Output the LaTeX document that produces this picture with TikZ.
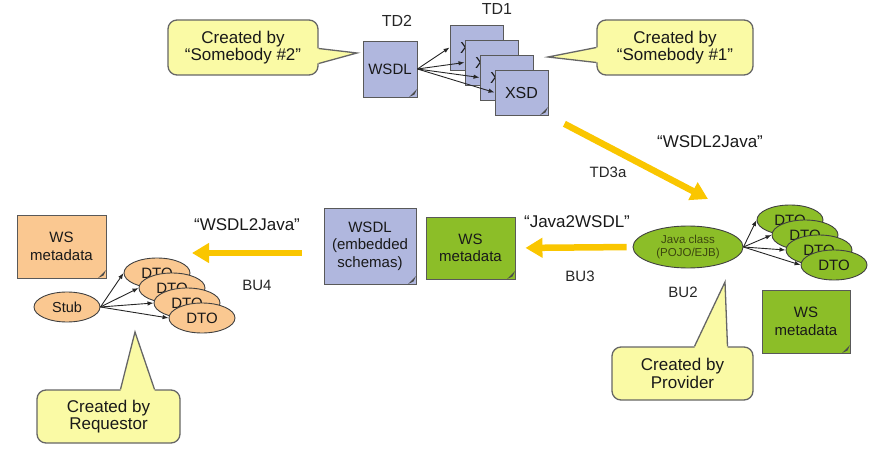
\documentclass[tikz,border=0pt]{standalone}
\usepackage{fontspec}
\setmainfont{Liberation Sans}
\usetikzlibrary{shapes.geometric,arrows.meta}
\definecolor{noteyellow}{RGB}{250,250,165}
\definecolor{docblue}{RGB}{176,183,222}
\definecolor{wsgreen}{RGB}{140,190,40}
\definecolor{reqorange}{RGB}{250,200,145}
\definecolor{flowyellow}{RGB}{250,198,0}
\definecolor{javatext}{RGB}{60,70,15}
\newcommand\setfs[2]{\fontsize{#1}{#2}\selectfont}

\begin{document}
\begin{tikzpicture}
            [x=1pt,y=-1pt,
             note/.style={draw=black!60,line width=1.3pt,fill=noteyellow,rounded corners=9pt,align=center,font=\setfs{17}{17.5},text=black!90},
             noteline/.style={draw=black!60,line width=1.3pt,line join=miter},
             doc/.style={draw=black!65,line width=0.9pt,fill=docblue,align=center,inner sep=1pt,font=\setfs{15}{17.5},text=black!90,
               path picture={\fill[black!70] ([xshift=-8pt]path picture bounding box.south east) -- ([yshift=8pt]path picture bounding box.south east) -- ([shift={(-2.5pt,2.5pt)}]path picture bounding box.south east) -- cycle;}},
             xsd/.style={doc,minimum width=53,minimum height=45,font=\setfs{16}{17}},
             ell/.style={ellipse,draw=black!75,line width=0.9pt,inner sep=0pt,align=center,minimum width=66,minimum height=30,font=\setfs{15}{16},text=black!90},
             lbl/.style={font=\setfs{15}{16},text=black!85},
             quote/.style={font=\setfs{17}{18},text=black!90},
             link/.style={draw=black!85,line width=0.9pt,-{Latex[length=6pt,width=4.5pt]}},
             flow/.style={draw=flowyellow,line width=6.5pt,-{Triangle[length=17pt,width=19pt]}}]
            \useasboundingbox (0,0) rectangle (883,457);
            %
            % top: WSDL and XSDs
            \node[doc,minimum width=54,minimum height=56] (wsdl) at (390,69) {WSDL};
            \node[lbl,font=\setfs{16}{17}] (td2) at (397,21) {TD2};
            \node[xsd] (x1) at (476.5,47.5) {XSD};
            \node[xsd] (x2) at (491.5,62.5) {XSD};
            \node[xsd] (x3) at (506.5,77.5) {XSD};
            \node[xsd] (x4) at (521.5,92.5) {XSD};
            \node[lbl,font=\setfs{16}{17}] (td1) at (497,9) {TD1};
            \draw[link] (wsdl.east) -- (x1.west);
            \draw[link] (wsdl.east) -- (x2.west);
            \draw[link] (wsdl.east) -- (x3.west);
            \draw[link] (wsdl.east) -- (x4.west);
            %
            % callouts at the top
            \node[note,minimum width=150,minimum height=55] (c2) at (243,47.5) {Created by\\“Somebody \#2”};
            \coordinate (t2) at (357,53);
            \fill[noteyellow] ([shift={(-3pt,-1pt)}]c2.east) -- ([yshift=-1pt]c2.east) -- (t2) -- ([yshift=-16pt]c2.east) -- ([shift={(-3pt,-16pt)}]c2.east) -- cycle;
            \draw[noteline] ([yshift=-1pt]c2.east) -- (t2) -- ([yshift=-16pt]c2.east);
            \node[note,minimum width=156,minimum height=55] (c1) at (675,47.5) {Created by\\“Somebody \#1”};
            \coordinate (t1) at (548,57);
            \fill[noteyellow] ([shift={(3pt,0pt)}]c1.west) -- (c1.west) -- (t1) -- ([yshift=-15pt]c1.west) -- ([shift={(3pt,-15pt)}]c1.west) -- cycle;
            \draw[noteline] (c1.west) -- (t1) -- ([yshift=-15pt]c1.west);
            %
            % provider side
            \coordinate (td3tip) at (708,199);
            \draw[flow,shorten <=18pt] (x4.south east) -- (td3tip);
            \node[quote] (q1) at (710,142) {“WSDL2Java”};
            \node[lbl] (td3) at (608,172) {TD3a};
            \node[ell,fill=wsgreen,minimum width=110,minimum height=42,font=\setfs{11.5}{12.5},text=javatext] (java) at (688,247) {Java class\\(POJO/EJB)};
            \node[ell,fill=wsgreen] (d1) at (790,220) {DTO};
            \node[ell,fill=wsgreen] (d2) at (805,235) {DTO};
            \node[ell,fill=wsgreen] (d3) at (819,250) {DTO};
            \node[ell,fill=wsgreen] (d4) at (834,265) {DTO};
            \draw[link] (java.east) -- (d1.west);
            \draw[link] (java.east) -- (d2.west);
            \draw[link] (java.east) -- (d3.west);
            \draw[link] (java.east) -- (d4.west);
            \node[lbl] (bu2) at (683,292) {BU2};
            \node[doc,fill=wsgreen,minimum width=88,minimum height=63] (wsr) at (806,321.5) {WS\\metadata};
            \node[note,minimum width=141,minimum height=53] (c3) at (682.5,373.5) {Created by\\Provider};
            \coordinate (t3) at (725,282);
            \fill[noteyellow] ([shift={(12pt,-3pt)}]c3.north) -- ([xshift=12pt]c3.north) -- (t3) -- ([xshift=45pt]c3.north) -- ([shift={(45pt,-3pt)}]c3.north) -- cycle;
            \draw[noteline] ([xshift=12pt]c3.north) -- (t3) -- ([xshift=45pt]c3.north);
            %
            % middle
            \node[doc,fill=wsgreen,minimum width=89,minimum height=62] (wsm) at (470.5,248) {WS\\metadata};
            \draw[flow,shorten <=6pt,shorten >=10pt] (java.west) -- (wsm.east);
            \node[quote] (q2) at (577,222) {“Java2WSDL”};
            \node[lbl] (bu3) at (580,276) {BU3};
            \node[doc,minimum width=92,minimum height=76] (wemb) at (370,246) {WSDL\\(embedded\\schemas)};
            %
            % requestor side
            \coordinate (bu4tip) at (192,253);
            \draw[flow,shorten <=22pt] ([yshift=-7pt]wemb.west) -- (bu4tip);
            \node[quote] (q3) at (247,225) {“WSDL2Java”};
            \node[lbl] (bu4) at (257,285) {BU4};
            \node[doc,fill=reqorange,minimum width=89,minimum height=63] (wso) at (61.5,246.5) {WS\\metadata};
            \node[ell,fill=reqorange,font=\setfs{14.5}{15}] (stub) at (67,307) {Stub};
            \node[ell,fill=reqorange] (o1) at (157,273) {DTO};
            \node[ell,fill=reqorange] (o2) at (172,288) {DTO};
            \node[ell,fill=reqorange] (o3) at (187,303) {DTO};
            \node[ell,fill=reqorange] (o4) at (202,318) {DTO};
            \draw[link] (stub.east) -- (o1.west);
            \draw[link] (stub.east) -- (o2.west);
            \draw[link] (stub.east) -- (o3.west);
            \draw[link] (stub.east) -- (o4.west);
            \node[note,minimum width=143,minimum height=53] (c4) at (108.5,416.5) {Created by\\Requestor};
            \coordinate (t4) at (135,332);
            \fill[noteyellow] ([shift={(12pt,-3pt)}]c4.north) -- ([xshift=12pt]c4.north) -- (t4) -- ([xshift=46pt]c4.north) -- ([shift={(46pt,-3pt)}]c4.north) -- cycle;
            \draw[noteline] ([xshift=12pt]c4.north) -- (t4) -- ([xshift=46pt]c4.north);
        \end{tikzpicture}
\end{document}
